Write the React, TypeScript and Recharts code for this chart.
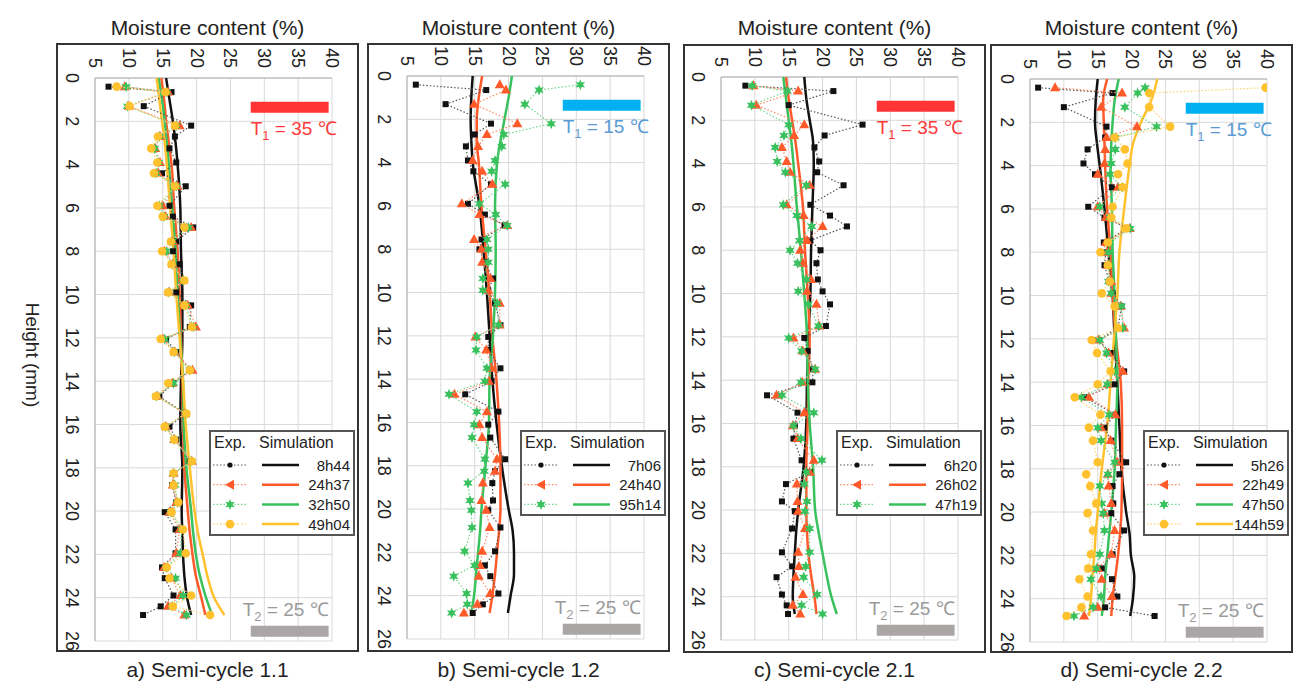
import React from "react";
import { ScatterChart, Scatter, XAxis, YAxis, CartesianGrid, ReferenceArea } from "recharts";

const FONT = "'Liberation Sans', Arial, Helvetica, sans-serif";

// measurement heights (mm) shared by the experimental profiles
const HEIGHTS = [
  0.4, 0.65, 1.3, 2.2, 2.7, 3.25, 3.9, 4.4, 5.0, 5.9, 6.4, 6.9, 7.55, 8.0, 8.6, 9.35, 9.9, 10.5, 11.5, 12.05,
  12.65, 13.5, 14.1, 14.7, 15.5, 16.1, 16.7, 17.7, 18.25, 18.8, 19.6, 20.05, 20.85, 21.95, 22.6, 23.1, 23.9, 24.4, 24.8,
];
// heights of the simulated profiles
const SIM_HEIGHTS = [0, 1, 2, 3, 4, 6, 8, 10, 12, 14, 16, 18, 20, 21, 22, 23, 24, 24.8];

const MOISTURE_TICKS = [5, 10, 15, 20, 25, 30, 35, 40];
const HEIGHT_TICKS = [0, 2, 4, 6, 8, 10, 12, 14, 16, 18, 20, 22, 24, 26];

// a) Semi-cycle 1.1
const A_LABELS = ["8h44", "24h37", "32h50", "49h04"];
const A_EXP_8H44 = [7.0, 16.3, 12.2, 19.2, 16.8, 16.0, 17.0, 14.9, 18.4, 16.0, 16.5, 19.5, 17.0, 16.5, 17.5, 18.2, 17.0, 19.2, 19.0, 15.5, 17.0, 19.0, 16.5, 14.5, 18.3, 16.0, 17.0, 19.0, 16.7, 16.4, 17.0, 15.3, 16.9, 16.9, 14.9, 15.3, 16.6, 14.7, 12.1];
const A_EXP_24H37 = [9.4, 15.8, 10.0, 17.5, 14.6, 13.9, 14.6, 14.3, 17.2, 15.0, 15.4, 19.2, 16.5, 15.3, 16.5, 18.0, 16.0, 18.7, 19.9, 15.0, 16.8, 19.4, 16.4, 14.2, 18.3, 15.5, 16.7, 19.3, 16.6, 16.5, 17.0, 16.0, 17.5, 17.0, 15.2, 16.3, 17.6, 15.8, 18.2];
const A_EXP_32H50 = [9.6, 15.6, 9.8, 17.0, 14.5, 13.8, 14.4, 14.0, 17.0, 14.5, 15.2, 18.8, 16.4, 15.5, 16.4, 18.0, 15.9, 18.4, 19.5, 15.3, 16.7, 19.0, 16.6, 14.1, 18.4, 15.4, 16.7, 19.2, 16.6, 16.8, 17.2, 16.2, 17.8, 17.6, 15.5, 16.9, 18.0, 16.4, 18.5];
const A_EXP_49H04 = [8.2, 15.4, 10.1, 16.8, 14.3, 13.3, 14.2, 13.7, 16.8, 14.2, 15.0, 18.2, 16.2, 14.9, 16.3, 18.2, 15.8, 18.2, 19.3, 14.7, 16.6, 19.0, 15.8, 14.0, 18.5, 15.3, 16.7, 19.3, 16.6, 16.6, 17.3, 16.3, 18.0, 18.4, 15.6, 16.0, 19.2, 16.5, 22.0];
const A_SIM_8H44 = [15.5, 16.0, 16.5, 16.9, 17.2, 17.6, 17.7, 17.9, 17.9, 17.7, 17.6, 17.9, 17.8, 17.9, 18.0, 18.2, 18.6, 19.2];
const A_SIM_24H37 = [14.8, 15.2, 15.5, 15.9, 16.3, 16.7, 17.2, 17.5, 17.7, 17.9, 18.0, 18.2, 18.7, 19.0, 19.4, 19.9, 20.7, 21.3];
const A_SIM_32H50 = [14.4, 14.9, 15.3, 15.6, 15.9, 16.4, 16.9, 17.2, 17.6, 18.0, 18.1, 18.5, 19.2, 19.5, 19.9, 20.5, 21.4, 22.3];
const A_SIM_49H04 = [14.1, 14.5, 14.9, 15.3, 15.6, 16.1, 16.6, 17.0, 17.5, 18.0, 18.4, 19.0, 19.7, 20.2, 20.9, 21.6, 22.6, 24.1];

// b) Semi-cycle 1.2
const B_LABELS = ["7h06", "24h40", "95h14"];
const B_EXP_7H06 = [6.3, 16.7, 10.7, 17.4, 15.0, 13.7, 14.0, 14.8, 17.4, 14.0, 16.5, 19.4, 16.0, 15.7, 16.5, 17.7, 17.0, 18.0, 18.8, 17.0, 17.0, 18.8, 17.5, 13.6, 18.5, 17.0, 17.3, 19.5, 18.0, 17.6, 17.7, 17.0, 18.8, 18.0, 16.5, 17.3, 18.5, 16.2, 14.7];
const B_EXP_24H40 = [18.7, 19.6, 14.9, 21.3, 16.8, 15.5, 14.7, 16.1, 17.6, 13.1, 15.7, 19.8, 14.9, 16.0, 16.1, 17.3, 17.0, 18.7, 18.7, 15.1, 16.7, 17.5, 17.1, 12.0, 16.8, 15.7, 16.1, 18.3, 18.0, 16.2, 16.0, 16.7, 17.2, 16.1, 15.8, 15.6, 17.3, 15.4, 13.4];
const B_EXP_95H14 = [30.6, 24.5, 22.4, 26.3, 19.3, 19.0, 18.0, 17.5, 19.5, 15.7, 18.1, 19.8, 16.8, 17.0, 17.0, 16.2, 16.2, 18.3, 18.5, 15.3, 15.2, 16.8, 16.5, 11.2, 15.3, 14.9, 14.6, 16.5, 16.4, 14.0, 14.3, 14.5, 14.6, 13.5, 15.0, 11.9, 13.8, 13.9, 11.6];
const B_SIM_7H06 = [14.7, 14.5, 14.4, 14.5, 14.7, 15.7, 16.3, 16.8, 17.2, 17.6, 18.2, 19.0, 20.0, 20.6, 20.8, 20.8, 20.3, 19.9];
const B_SIM_24H40 = [16.1, 15.6, 15.3, 15.3, 15.6, 16.0, 16.6, 17.2, 17.6, 18.2, 18.6, 18.8, 18.8, 18.6, 18.3, 18.0, 17.6, 17.2];
const B_SIM_95H14 = [20.5, 20.0, 19.4, 18.8, 18.3, 18.0, 18.1, 18.0, 17.7, 17.2, 17.1, 16.6, 16.0, 15.8, 15.5, 15.2, 14.9, 14.5];

// c) Semi-cycle 2.1
const C_LABELS = ["6h20", "26h02", "47h19"];
const C_EXP_6H20 = [8.6, 21.6, 15.0, 25.9, 20.3, 18.8, 19.5, 19.2, 23.1, 18.2, 21.1, 23.6, 18.2, 19.7, 19.1, 19.3, 20.0, 21.1, 20.5, 17.3, 17.8, 18.6, 18.5, 11.8, 16.3, 15.9, 15.7, 16.9, 18.1, 14.6, 14.0, 15.9, 15.5, 14.0, 15.5, 13.2, 14.0, 14.7, 14.9];
const C_EXP_26H02 = [9.8, 16.4, 10.2, 17.3, 15.8, 14.0, 14.7, 15.2, 18.1, 14.7, 17.2, 20.0, 17.7, 16.7, 17.1, 18.3, 17.7, 19.1, 19.5, 15.7, 17.1, 18.9, 17.0, 13.2, 17.3, 15.6, 16.3, 18.7, 18.1, 16.2, 16.3, 16.4, 17.4, 16.4, 16.5, 16.0, 17.1, 15.6, 16.7];
const C_EXP_47H19 = [9.6, 14.8, 9.5, 15.0, 14.3, 13.0, 13.3, 14.5, 17.6, 14.2, 16.2, 18.4, 16.6, 15.2, 16.3, 17.6, 16.4, 17.9, 19.4, 15.0, 16.9, 18.9, 16.8, 14.0, 18.7, 15.7, 16.8, 19.9, 17.6, 17.3, 17.7, 17.4, 18.1, 18.1, 17.5, 17.2, 19.2, 16.9, 20.0];
const C_SIM_6H20 = [17.3, 17.6, 18.1, 18.6, 18.7, 18.5, 18.3, 18.2, 17.9, 17.7, 17.6, 17.2, 16.4, 16.1, 15.9, 15.7, 15.6, 15.9];
const C_SIM_26H02 = [14.6, 15.0, 15.5, 16.0, 16.4, 17.1, 17.4, 17.8, 18.1, 17.9, 17.8, 17.6, 17.6, 17.7, 17.9, 18.3, 18.8, 19.1];
const C_SIM_47H19 = [14.2, 14.6, 15.0, 15.4, 15.7, 16.2, 16.8, 17.3, 17.7, 17.8, 18.1, 18.6, 18.9, 19.4, 20.0, 20.6, 21.3, 22.1];

// d) Semi-cycle 2.2
const D_LABELS = ["5h26", "22h49", "47h50", "144h59"];
const D_EXP_5H26 = [6.2, 17.2, 10.0, 16.3, 16.1, 13.5, 12.9, 14.6, 17.1, 13.6, 16.0, 19.5, 15.9, 16.2, 16.0, 16.7, 17.2, 18.5, 18.0, 15.1, 16.9, 18.9, 17.5, 13.1, 17.6, 16.0, 17.0, 19.2, 18.2, 17.2, 17.3, 17.0, 18.9, 17.2, 15.6, 17.1, 17.9, 16.1, 23.4];
const D_EXP_22H49 = [8.7, 18.6, 15.5, 20.8, 16.3, 16.1, 16.0, 15.0, 18.0, 15.0, 16.2, 19.7, 16.2, 16.4, 16.5, 17.0, 17.0, 18.4, 18.9, 15.1, 16.6, 18.7, 16.5, 13.7, 17.6, 15.5, 16.9, 17.9, 16.5, 16.6, 17.0, 16.0, 17.5, 17.0, 15.0, 15.6, 17.1, 15.0, 13.0];
const D_EXP_47H50 = [22.0, 20.9, 19.0, 23.7, 17.6, 17.6, 17.0, 16.8, 18.6, 15.3, 16.8, 19.8, 16.8, 16.6, 16.7, 16.6, 17.0, 18.5, 18.7, 15.3, 16.3, 17.5, 16.4, 12.6, 16.7, 15.0, 15.5, 17.5, 16.5, 15.3, 15.6, 15.8, 16.0, 15.3, 14.8, 14.0, 15.5, 14.3, 11.5];
const D_EXP_144H59 = [39.8, 22.6, 22.6, 25.7, 17.5, 19.0, 19.4, 18.0, 18.7, 17.2, 17.0, 19.2, 16.5, 15.4, 16.5, 16.8, 15.6, 17.5, 18.0, 14.1, 14.9, 16.9, 15.0, 11.6, 15.4, 13.7, 14.3, 15.0, 13.3, 13.9, 14.8, 13.5, 14.3, 14.0, 13.6, 12.3, 13.5, 12.6, 10.4];
const D_SIM_5H26 = [15.0, 14.7, 14.6, 14.9, 15.3, 16.0, 16.6, 17.2, 17.5, 17.9, 18.2, 18.5, 19.2, 19.7, 19.9, 20.4, 20.2, 19.8];
const D_SIM_22H49 = [16.4, 15.8, 15.9, 16.0, 16.1, 16.4, 16.9, 17.2, 17.7, 18.4, 18.6, 18.6, 18.5, 18.3, 18.0, 17.6, 17.2, 17.0];
const D_SIM_47H50 = [18.1, 17.5, 17.2, 17.0, 16.9, 17.1, 17.2, 17.5, 17.7, 17.9, 17.7, 17.5, 17.0, 16.7, 16.4, 16.1, 15.9, 15.6];
const D_SIM_144H59 = [23.8, 22.9, 21.4, 20.2, 19.7, 18.9, 18.2, 17.9, 17.4, 16.9, 16.4, 15.6, 15.0, 14.7, 14.5, 14.2, 14.0, 13.7];

// series looks, in legend order
const STYLES = [
  { color: "#111111", dots: "#555555", marker: "square" },
  { color: "#ff5a2a", dots: "#ff8a66", marker: "triangle" },
  { color: "#38c15c", dots: "#6fd68c", marker: "star" },
  { color: "#ffc12e", dots: "#ffd36a", marker: "circle" },
];

const PANELS = [
  { caption: "a) Semi-cycle 1.1", fx: 56, fy: 43, plotL: 95, plotT: 78, t1: "35", hot: true, labels: A_LABELS,
    exp: [A_EXP_8H44, A_EXP_24H37, A_EXP_32H50, A_EXP_49H04], sim: [A_SIM_8H44, A_SIM_24H37, A_SIM_32H50, A_SIM_49H04] },
  { caption: "b) Semi-cycle 1.2", fx: 367, fy: 43, plotL: 407, plotT: 76, t1: "15", hot: false, labels: B_LABELS,
    exp: [B_EXP_7H06, B_EXP_24H40, B_EXP_95H14], sim: [B_SIM_7H06, B_SIM_24H40, B_SIM_95H14] },
  { caption: "c) Semi-cycle 2.1", fx: 683, fy: 44, plotL: 721, plotT: 77, t1: "35", hot: true, labels: C_LABELS,
    exp: [C_EXP_6H20, C_EXP_26H02, C_EXP_47H19], sim: [C_SIM_6H20, C_SIM_26H02, C_SIM_47H19] },
  { caption: "d) Semi-cycle 2.2", fx: 990, fy: 44, plotL: 1030, plotT: 79, t1: "15", hot: false, labels: D_LABELS,
    exp: [D_EXP_5H26, D_EXP_22H49, D_EXP_47H50, D_EXP_144H59], sim: [D_SIM_5H26, D_SIM_22H49, D_SIM_47H50, D_SIM_144H59] },
];

const FRAME_W = 303;
const FRAME_H = 609;
const CHART_W = FRAME_W - 4;
const CHART_H = FRAME_H - 4;
const PLOT_W = 237;
const PLOT_H = 563;

function starPath(cx: number, cy: number, r1: number, r2: number) {
  let d = "";
  for (let i = 0; i < 12; i++) {
    const r = i % 2 === 0 ? r1 : r2;
    const a = (Math.PI / 6) * i - Math.PI / 2;
    d += (i === 0 ? "M" : "L") + (cx + r * Math.cos(a)).toFixed(2) + "," + (cy + r * Math.sin(a)).toFixed(2);
  }
  return d + "Z";
}

function drawMarker(kind: string, color: string, cx: number, cy: number, legend = false) {
  if (kind === "square") {
    return legend ? <circle cx={cx} cy={cy} r={2.6} fill={color} /> : <rect x={cx - 3} y={cy - 3} width={6} height={6} fill={color} />;
  }
  if (kind === "triangle") {
    return legend ? (
      <path d={`M${cx - 5},${cy}L${cx + 4},${cy - 5}L${cx + 4},${cy + 5}Z`} fill={color} />
    ) : (
      <path d={`M${cx},${cy - 5.5}L${cx + 5},${cy + 3.5}L${cx - 5},${cy + 3.5}Z`} fill={color} />
    );
  }
  if (kind === "star") return <path d={starPath(cx, cy, 5.5, 2.6)} fill={color} />;
  return <circle cx={cx} cy={cy} r={4.3} fill={color} />;
}

const TopTick = (props: any) => {
  const { x, y, payload } = props;
  return (
    <text x={x} y={y} transform={`rotate(90 ${x} ${y})`} textAnchor="end" dominantBaseline="central"
      fontSize={18} fill="#222" fontFamily={FONT}>
      {payload.value}
    </text>
  );
};

const LeftTick = (props: any) => {
  const { x, y, payload } = props;
  return (
    <text x={x} y={y} transform={`rotate(90 ${x} ${y})`} textAnchor="middle" dominantBaseline="central"
      fontSize={18} fill="#222" fontFamily={FONT}>
      {payload.value}
    </text>
  );
};

function tempLabel(sub: string, value: string, color: string, below: boolean) {
  return (props: any) => {
    const vb = props.viewBox;
    if (!vb) return null;
    return (
      <text x={below ? vb.x : vb.x + vb.width} y={below ? vb.y + vb.height + 22 : vb.y - 10}
        textAnchor={below ? "start" : "end"} fill={color} fontSize={19} fontFamily={FONT}>
        T<tspan fontSize={13} dy={5}>{sub}</tspan>
        <tspan dy={-5}>{` = ${value} \u2103`}</tspan>
      </text>
    );
  };
}

function PanelLegend({ labels, left, top }: { labels: string[]; left: number; top: number }) {
  const h = 26 + labels.length * 20;
  return (
    <svg width={146} height={h} style={{ position: "absolute", left, top }}>
      <rect x={1} y={1} width={144} height={h - 2} fill="#fff" stroke="#555" strokeWidth={2} />
      <text x={5} y={18} fontSize={16} fill="#222" fontFamily={FONT}>Exp.</text>
      <text x={50} y={18} fontSize={16} fill="#222" fontFamily={FONT}>Simulation</text>
      {labels.map((lab, i) => {
        const s = STYLES[i];
        const cy = 35 + i * 19.7;
        return (
          <g key={lab}>
            <line x1={4} x2={38} y1={cy} y2={cy} stroke={s.dots} strokeWidth={1.2} strokeDasharray="1.5 2" />
            {drawMarker(s.marker, s.color, 21, cy, true)}
            <line x1={53} x2={90} y1={cy} y2={cy} stroke={s.color} strokeWidth={2.5} />
            <text x={141} y={cy + 5.5} textAnchor="end" fontSize={15} fill="#222" fontFamily={FONT}>{lab}</text>
          </g>
        );
      })}
    </svg>
  );
}

function Panel({ p }: { p: (typeof PANELS)[number] }) {
  const yW = p.plotL - p.fx - 2;
  const xH = p.plotT - p.fy - 2;
  const margin = { top: 0, left: 0, right: CHART_W - yW - PLOT_W, bottom: CHART_H - xH - PLOT_H };
  const barColor = p.hot ? "#ff3434" : "#00b0f0";
  const textColor = p.hot ? "#ff3b3b" : "#5b9bd5";
  return (
    <>
      <div style={{ position: "absolute", left: p.fx, top: 16, width: FRAME_W, textAlign: "center", fontSize: 21, lineHeight: "24px", whiteSpace: "nowrap" }}>
        Moisture content (%)
      </div>
      <div style={{ position: "absolute", left: p.fx, top: p.fy, width: FRAME_W, height: FRAME_H, border: "2px solid #333", boxSizing: "border-box", overflow: "hidden", background: "#fff" }}>
        <ScatterChart width={CHART_W} height={CHART_H} margin={margin}>
          <CartesianGrid stroke="#d9d9d9" strokeWidth={1} />
          <XAxis type="number" dataKey="m" orientation="top" domain={[5, 40]} ticks={MOISTURE_TICKS} interval={0}
            height={xH} tickSize={0} tickMargin={10} axisLine={{ stroke: "#b0b0b0" }} tick={(t: any) => <TopTick {...t} />} allowDataOverflow />
          <YAxis type="number" dataKey="h" domain={[0, 26]} reversed ticks={HEIGHT_TICKS} interval={0}
            width={yW} tickSize={0} tickMargin={23} axisLine={{ stroke: "#b0b0b0" }} tick={(t: any) => <LeftTick {...t} />} allowDataOverflow />
          <ReferenceArea x1={28} x2={39.5} y1={1.1} y2={1.6} fill={barColor} fillOpacity={1} stroke="none" ifOverflow="visible"
            label={tempLabel("1", p.t1, textColor, true)} />
          <ReferenceArea x1={28} x2={39.5} y1={25.3} y2={25.8} fill="#aaa6a6" fillOpacity={1} stroke="none" ifOverflow="visible"
            label={tempLabel("2", "25", "#9a9a9a", false)} />
          {p.sim.map((vals, i) => (
            <Scatter key={"sim" + i} name={p.labels[i]} data={SIM_HEIGHTS.map((h, j) => ({ h, m: vals[j] }))}
              fill={STYLES[i].color} line={{ stroke: STYLES[i].color, strokeWidth: 2.5 }} lineJointType="monotoneY"
              shape={() => <g />} isAnimationActive={false} legendType="none" />
          ))}
          {p.exp.map((vals, i) => (
            <Scatter key={"exp" + i} name={"Exp. " + p.labels[i]} data={HEIGHTS.map((h, j) => ({ h, m: vals[j] }))}
              fill={STYLES[i].color} line={{ stroke: STYLES[i].dots, strokeWidth: 1.2, strokeDasharray: "1.5 2" }}
              shape={(sp: any) => drawMarker(STYLES[i].marker, STYLES[i].color, sp.cx, sp.cy)}
              isAnimationActive={false} legendType="none" />
          ))}
        </ScatterChart>
        <PanelLegend labels={p.labels} left={FRAME_W - 2 - 146 - 4} top={430 - p.fy - 2} />
      </div>
      <div style={{ position: "absolute", left: p.fx, top: 658, width: FRAME_W, textAlign: "center", fontSize: 21, lineHeight: "24px", whiteSpace: "nowrap" }}>
        {p.caption}
      </div>
    </>
  );
}

export default function App() {
  return (
    <div style={{ position: "absolute", left: 0, top: 0, width: 1298, height: 689, background: "#fff", fontFamily: FONT, color: "#222" }}>
      <div style={{ position: "absolute", left: 32, top: 355, transform: "translate(-50%, -50%) rotate(90deg)", fontSize: 19, whiteSpace: "nowrap" }}>
        Height (mm)
      </div>
      {PANELS.map((p) => (
        <Panel key={p.caption} p={p} />
      ))}
    </div>
  );
}
